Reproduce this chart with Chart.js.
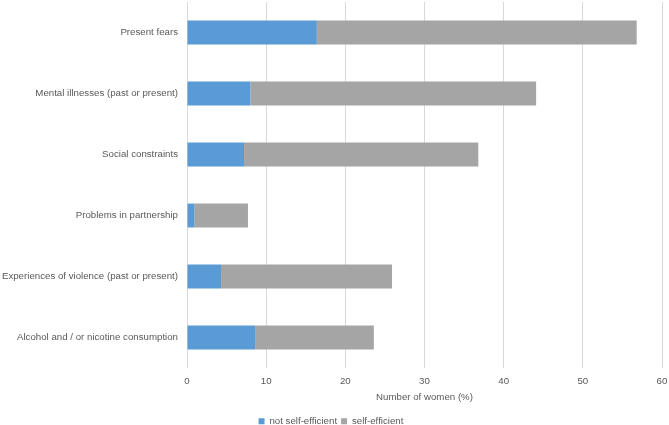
<!DOCTYPE html>
<html>
<head>
<meta charset="utf-8">
<script src="https://cdn.jsdelivr.net/npm/chart.js@4"></script>
<style>
  html, body { margin: 0; padding: 0; background: #fff; }
  #wrap { width: 669px; height: 425px; }
</style>
</head>
<body>
<div id="wrap"><canvas id="chart"></canvas></div>
<script>
// categories, top to bottom
const categories = [
  "Present fears",
  "Mental illnesses (past or present)",
  "Social constraints",
  "Problems in partnership",
  "Experiences of violence (past or present)",
  "Alcohol and / or nicotine consumption"
];

// percent of women
const notSelfEfficient = [16.4, 8.0, 7.2, 0.9, 4.3, 8.6];
const selfEfficient = [40.4, 36.1, 29.6, 6.8, 21.6, 15.0];

const xTicks = [0, 10, 20, 30, 40, 50, 60];

Chart.defaults.font.family = "'Liberation Sans', Arial, sans-serif";
Chart.defaults.font.size = 9.7;
Chart.defaults.color = "#595959";

new Chart(document.getElementById("chart"), {
  type: "bar",
  data: {
    labels: categories,
    datasets: [{
      label: "not self-efficient",
      data: notSelfEfficient,
      backgroundColor: "#5b9bd5",
      barPercentage: 0.8,
      categoryPercentage: 0.49
    }, {
      label: "self-efficient",
      data: selfEfficient,
      backgroundColor: "#a5a5a5",
      barPercentage: 0.8,
      categoryPercentage: 0.49
    }]
  },
  options: {
    indexAxis: "y",
    responsive: true,
    maintainAspectRatio: false,
    animation: false,
    layout: { padding: { top: 2, right: 7, left: 0, bottom: -11 } },
    scales: {
      x: {
        stacked: true,
        min: 0,
        max: 60,
        afterBuildTicks: (axis) => { axis.ticks = xTicks.map(v => ({ value: v })); },
        afterFit: (axis) => { axis.paddingRight = 0; axis.paddingLeft = 0; },
        grid: { color: "#d9d9d9", drawTicks: false },
        border: { display: false },
        ticks: { padding: 7 },
        title: { display: true, text: "Number of women (%)", padding: { top: -2, bottom: 9 } }
      },
      y: {
        stacked: true,
        grid: { display: false, drawTicks: false },
        border: { display: false },
        ticks: { padding: 9 },
        afterFit: (axis) => { axis.width = 187; axis.paddingTop = 0; axis.paddingBottom = 0; }
      }
    },
    plugins: {
      legend: {
        position: "bottom",
        labels: { boxWidth: 6, boxHeight: 6, padding: 4 }
      },
      tooltip: { enabled: false }
    }
  }
});
</script>
</body>
</html>
